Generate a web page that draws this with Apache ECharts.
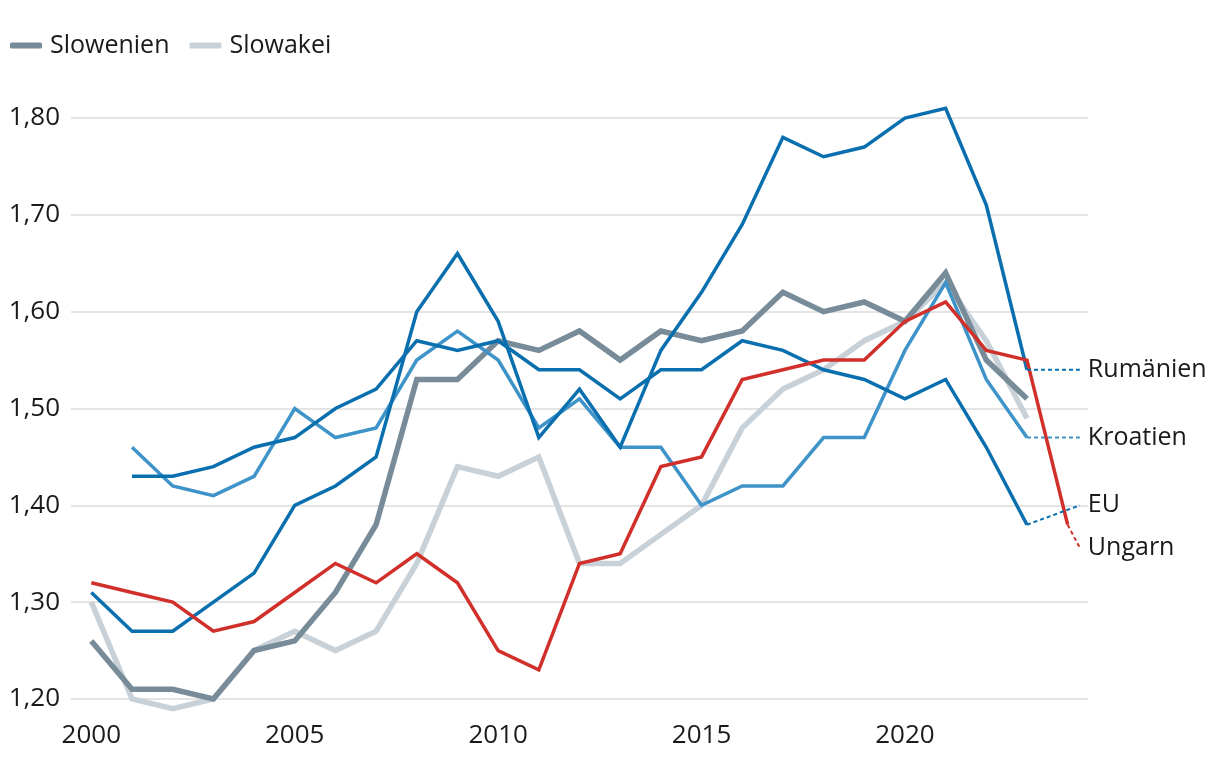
<!DOCTYPE html>
<html>
<head>
<meta charset="utf-8">
<script src="https://cdn.jsdelivr.net/npm/echarts@6/dist/echarts.min.js"></script>
<style>
  html, body { margin: 0; padding: 0; background: #ffffff; }
  #chart { width: 1220px; height: 762px; }
</style>
</head>
<body>
<div id="chart"></div>
<script>
// ---- Data ----
const years = [2000,2001,2002,2003,2004,2005,2006,2007,2008,2009,2010,2011,2012,2013,2014,2015,2016,2017,2018,2019,2020,2021,2022,2023,2024];
const slowenien = [1.26,1.21,1.21,1.20,1.25,1.26,1.31,1.38,1.53,1.53,1.57,1.56,1.58,1.55,1.58,1.57,1.58,1.62,1.60,1.61,1.59,1.64,1.55,1.51,null];
const slowakei  = [1.30,1.20,1.19,1.20,1.25,1.27,1.25,1.27,1.34,1.44,1.43,1.45,1.34,1.34,1.37,1.40,1.48,1.52,1.54,1.57,1.59,1.63,1.57,1.49,null];
const kroatien  = [null,1.46,1.42,1.41,1.43,1.50,1.47,1.48,1.55,1.58,1.55,1.48,1.51,1.46,1.46,1.40,1.42,1.42,1.47,1.47,1.56,1.63,1.53,1.47,null];
const eu        = [null,1.43,1.43,1.44,1.46,1.47,1.50,1.52,1.57,1.56,1.57,1.54,1.54,1.51,1.54,1.54,1.57,1.56,1.54,1.53,1.51,1.53,1.46,1.38,null];
const rumaenien = [1.31,1.27,1.27,1.30,1.33,1.40,1.42,1.45,1.60,1.66,1.59,1.47,1.52,1.46,1.56,1.62,1.69,1.78,1.76,1.77,1.80,1.81,1.71,1.54,null];
const ungarn    = [1.32,1.31,1.30,1.27,1.28,1.31,1.34,1.32,1.35,1.32,1.25,1.23,1.34,1.35,1.44,1.45,1.53,1.54,1.55,1.55,1.59,1.61,1.56,1.55,1.38];
const yTicks = [1.20,1.30,1.40,1.50,1.60,1.70,1.80];
const xTickLabels = [2000,2005,2010,2015,2020];
// end labels: name, label value position
const endLabelNames = ['Rumänien','Kroatien','EU','Ungarn'];
const endLabelValues = [1.54,1.47,1.40,1.356];
const labelYear = 2024.3;

// ---- Styles ----
const FONT = '"Open Sans", "Noto Sans", sans-serif';
const TXT = '#1a1a1a';
const C = {
  slowenien: '#788b98',
  slowakei: '#c9d1d8',
  kroatien: '#3e93c8',
  eu: '#0a6fae',
  rumaenien: '#0a6fae',
  ungarn: '#d1302a'
};

function pairs(arr) {
  return years.map((y, i) => [y, arr[i]]);
}
function lastPoint(arr) {
  for (let i = arr.length - 1; i >= 0; i--) if (arr[i] != null) return [years[i], arr[i]];
  return null;
}

function mainSeries(name, arr, color, width) {
  return {
    name: name,
    type: 'line',
    data: pairs(arr),
    showSymbol: false,
    symbol: 'none',
    clip: false,
    connectNulls: false,
    lineStyle: { color: color, width: width, join: 'miter', cap: 'butt' },
    itemStyle: { color: color },
    emphasis: { disabled: true },
    animation: false
  };
}

function leader(name, arr, color, labelVal) {
  const lp = lastPoint(arr);
  return {
    name: name,
    type: 'line',
    data: [lp, [labelYear, labelVal]],
    showSymbol: false,
    symbol: 'none',
    clip: false,
    silent: true,
    lineStyle: { color: color, width: 2, type: [4, 3] },
    endLabel: {
      show: true,
      formatter: '{a}',
      color: TXT,
      fontFamily: FONT,
      fontSize: 25,
      distance: 8
    },
    emphasis: { disabled: true },
    animation: false
  };
}

const chart = echarts.init(document.getElementById('chart'), null, { renderer: 'canvas' });

const option = {
  backgroundColor: '#ffffff',
  animation: false,
  textStyle: { fontFamily: FONT },
  legend: {
    data: ['Slowenien', 'Slowakei'],
    left: 5,
    top: 28,
    icon: 'roundRect',
    itemWidth: 32,
    itemHeight: 6,
    itemGap: 20,
    textStyle: { color: TXT, fontFamily: FONT, fontSize: 25, padding: [0, 0, 0, 3] },
    selectedMode: false
  },
  grid: { left: 71, right: 132, top: 118, bottom: 63, containLabel: false },
  xAxis: {
    type: 'value',
    min: 1999.5,
    max: 2024.5,
    interval: 0.5,
    axisLine: { show: false },
    axisTick: { show: false },
    splitLine: { show: false },
    axisLabel: {
      color: TXT,
      fontFamily: FONT,
      fontSize: 26,
      margin: 24,
      formatter: function (v) {
        const r = Math.round(v * 10) / 10;
        return xTickLabels.indexOf(r) >= 0 ? String(r) : '';
      }
    }
  },
  yAxis: {
    type: 'value',
    min: yTicks[0],
    max: yTicks[yTicks.length - 1],
    interval: 0.1,
    axisLine: { show: false },
    axisTick: { show: false },
    splitLine: { show: true, lineStyle: { color: '#e4e4e4', width: 2 } },
    axisLabel: {
      color: TXT,
      fontFamily: FONT,
      fontSize: 26,
      margin: 11,
      formatter: function (v) { return v.toFixed(2).replace('.', ','); }
    }
  },
  series: [
    mainSeries('Slowakei', slowakei, C.slowakei, 5.5),
    mainSeries('Slowenien', slowenien, C.slowenien, 5.5),
    mainSeries('Kroatien', kroatien, C.kroatien, 3.5),
    mainSeries('EU', eu, C.eu, 3.5),
    mainSeries('Rumänien', rumaenien, C.rumaenien, 3.5),
    mainSeries('Ungarn', ungarn, C.ungarn, 3.5),
    leader('Rumänien', rumaenien, C.rumaenien, endLabelValues[0]),
    leader('Kroatien', kroatien, C.kroatien, endLabelValues[1]),
    leader('EU', eu, C.eu, endLabelValues[2]),
    leader('Ungarn', ungarn, C.ungarn, endLabelValues[3])
  ]
};

chart.setOption(option);
</script>
</body>
</html>
